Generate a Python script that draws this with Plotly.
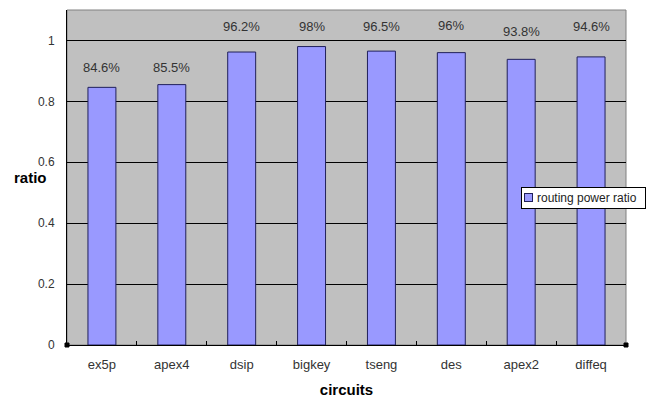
import plotly.graph_objects as go

# Routing power ratio per benchmark circuit
circuits = ["ex5p", "apex4", "dsip", "bigkey", "tseng", "des", "apex2", "diffeq"]
ratio = [0.846, 0.855, 0.962, 0.980, 0.965, 0.960, 0.938, 0.946]
labels = ["84.6%", "85.5%", "96.2%", "98%", "96.5%", "96%", "93.8%", "94.6%"]
series_name = "routing power ratio"
y_ticks = [0, 0.2, 0.4, 0.6, 0.8, 1]
y_tick_text = ["0", "0.2", "0.4", "0.6", "0.8", "1"]

# vertical pixel offsets of the value labels above each bar
label_lift = [20, 17, 26, 20, 25, 27, 28, 30]

FONT = "Liberation Sans, Arial, sans-serif"
BAR_FILL = "#9999ff"
BAR_EDGE = "#20205a"

fig = go.Figure()
fig.add_trace(go.Bar(
    x=circuits, y=ratio, name=series_name,
    marker=dict(color=BAR_FILL, line=dict(color=BAR_EDGE, width=1)),
    width=0.4, showlegend=False,
))

for c, v, t, dy in zip(circuits, ratio, labels, label_lift):
    fig.add_annotation(x=c, y=v, text=t, showarrow=False, yshift=dy,
                       font=dict(family=FONT, size=13, color="#333333"))

fig.update_layout(
    width=656, height=398,
    margin=dict(l=67, r=30, t=10, b=53),
    paper_bgcolor="white",
    plot_bgcolor="#c0c0c0",
    font=dict(family=FONT, size=12, color="#333333"),
    showlegend=False,
    xaxis=dict(
        automargin=False,
        showline=True, linecolor="#000000", linewidth=1, mirror=False,
        ticks="inside", tickson="boundaries", ticklen=4, tickcolor="#000000",
        showgrid=False, ticklabelstandoff=7,
        tickfont=dict(family=FONT, size=13, color="#333333"),
        title=dict(text="<b>circuits</b>", standoff=13,
                   font=dict(family=FONT, size=15, color="#000000")),
    ),
    yaxis=dict(
        automargin=False,
        range=[0, 1.1], tickvals=y_ticks, ticktext=y_tick_text,
        showline=True, linecolor="#000000", linewidth=1,
        showgrid=True, gridcolor="#000000", gridwidth=1,
        zeroline=False, ticks="", ticklabelstandoff=9,
        tickfont=dict(family=FONT, size=12, color="#333333"),
        title=None,
    ),
)

# y-axis caption, set horizontally beside the axis
fig.add_annotation(xref="paper", yref="paper", x=-0.066, y=0.499,
                   text="<b>ratio</b>", showarrow=False,
                   xanchor="center", yanchor="middle",
                   font=dict(family=FONT, size=15, color="#000000"))

# thin grey frame around the plot area
fig.add_shape(type="rect", xref="paper", yref="paper", x0=0, y0=0, x1=1, y1=1,
              line=dict(color="#808080", width=1), layer="below")

# small corner handles at both ends of the category axis
for xp in (0, 1):
    fig.add_shape(type="rect", xref="paper", yref="paper",
                  x0=-2, x1=2, y0=-2, y1=2,
                  xsizemode="pixel", ysizemode="pixel", xanchor=xp, yanchor=0,
                  line=dict(color="#000000", width=1), fillcolor="#000000")

# compact legend box: white panel, colour key and series name
LEG_Y = 0.439
fig.add_annotation(xref="paper", yref="paper", x=1.0358, y=LEG_Y,
                   xanchor="right", yanchor="middle", showarrow=False,
                   text="\u2003" + series_name + "\u2002", align="left",
                   bgcolor="white", bordercolor="#000000", borderwidth=1,
                   borderpad=3,
                   font=dict(family=FONT, size=12, color="#222222"))
fig.add_annotation(xref="paper", yref="paper", x=(528 - 67) / 559, y=LEG_Y,
                   xanchor="center", yanchor="middle", showarrow=False,
                   text="\u00a0", width=7, height=7,
                   bgcolor=BAR_FILL, bordercolor=BAR_EDGE, borderwidth=1,
                   borderpad=0, font=dict(family=FONT, size=6))

fig.write_html("out.html")
